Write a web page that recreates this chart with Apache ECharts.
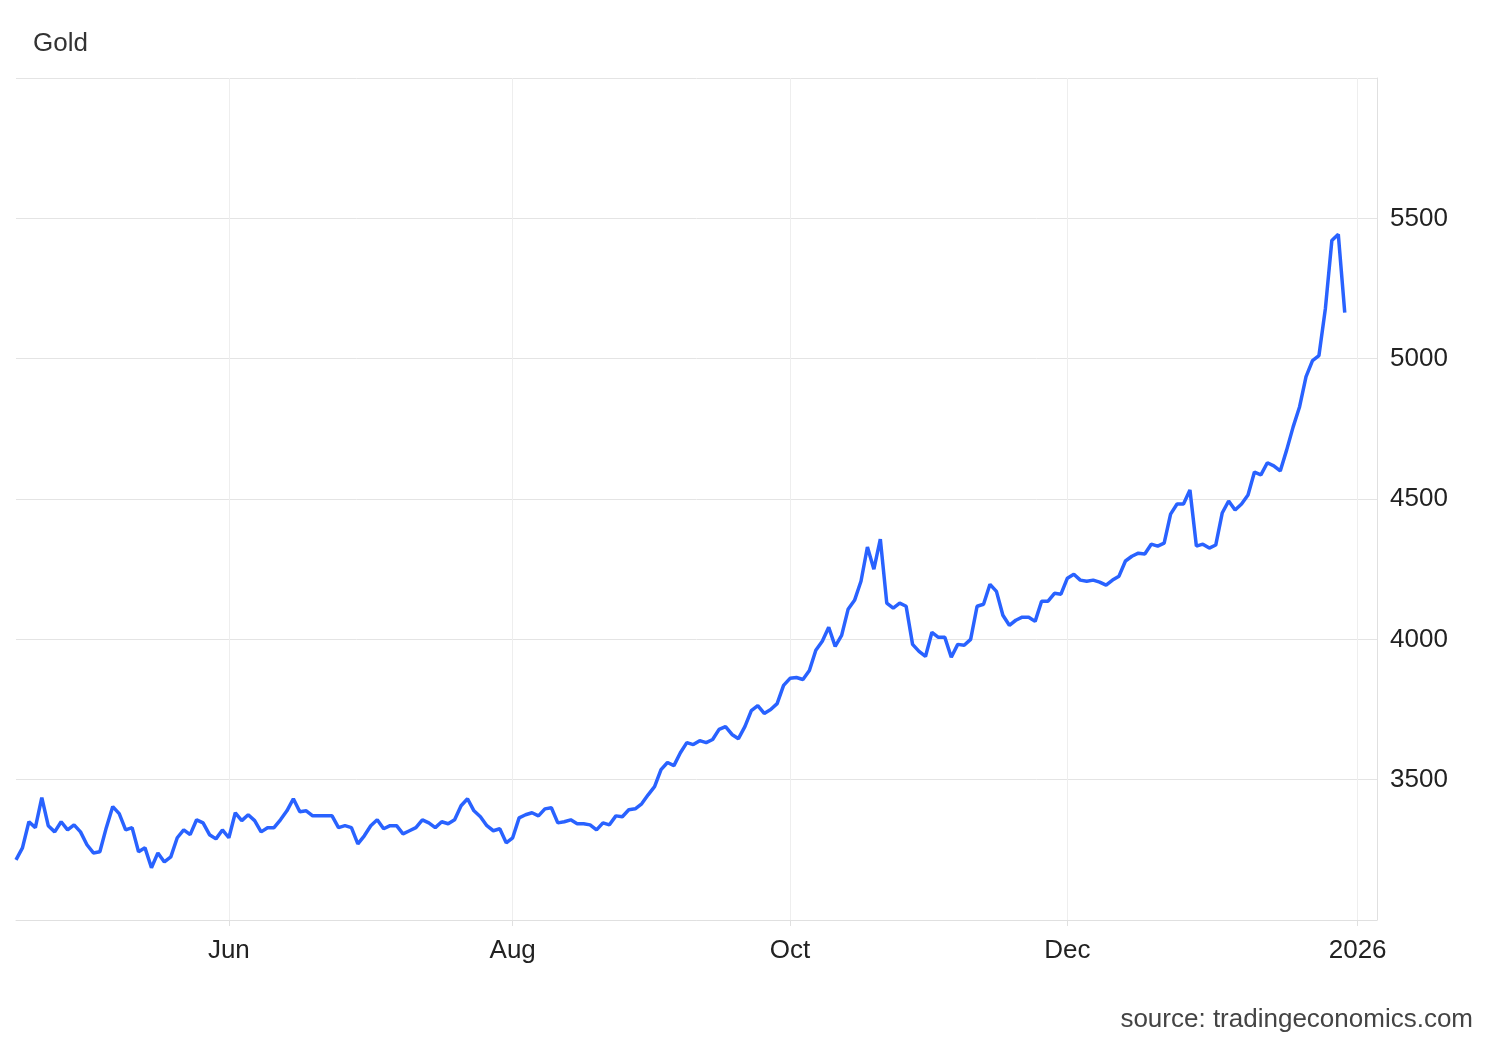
<!DOCTYPE html>
<html>
<head>
<meta charset="utf-8">
<script src="https://cdn.jsdelivr.net/npm/echarts@6/dist/echarts.min.js"></script>
<style>
  html, body { margin: 0; padding: 0; background: #fff; }
  #chart { width: 1500px; height: 1040px; }
</style>
</head>
<body>
<div id="chart"></div>
<script>
// gold price
const prices = [
  3214, 3257, 3350, 3329, 3436, 3336, 3314, 3350, 3321, 3339, 3314, 3268, 3239, 3243, 3329, 3404, 3379, 3321, 3329, 3243,
  3257, 3186, 3239, 3207, 3225, 3293, 3321, 3304, 3357, 3346, 3304, 3289, 3321, 3293, 3382, 3354, 3375, 3354, 3314, 3329,
  3329, 3357, 3389, 3432, 3386, 3389, 3371, 3371, 3371, 3371, 3329, 3336, 3329, 3271, 3300, 3336, 3357, 3325, 3336, 3336,
  3307, 3318, 3329, 3357, 3346, 3329, 3350, 3343, 3357, 3407, 3432, 3389, 3368, 3336, 3318, 3325, 3275, 3293, 3364, 3375,
  3382, 3371, 3396, 3400, 3346, 3350, 3357, 3343, 3343, 3339, 3321, 3346, 3339, 3371, 3368, 3393, 3396, 3414, 3446, 3475,
  3536, 3561, 3550, 3596, 3632, 3625, 3639, 3632, 3643, 3679, 3689, 3661, 3646, 3689, 3746, 3764, 3736, 3750, 3771, 3836,
  3861, 3864, 3857, 3889, 3961, 3993, 4043, 3975, 4014, 4107, 4139, 4207, 4329, 4250, 4357, 4129, 4111, 4129, 4118, 3982,
  3957, 3939, 4025, 4007, 4007, 3936, 3982, 3979, 4000, 4118, 4125, 4196, 4171, 4086, 4050, 4068, 4079, 4079, 4064, 4136,
  4136, 4164, 4161, 4218, 4232, 4211, 4207, 4211, 4204, 4193, 4211, 4225, 4279, 4296, 4307, 4304, 4339, 4332, 4343, 4446,
  4482, 4482, 4532, 4332, 4339, 4325, 4336, 4450, 4493, 4461, 4482, 4514, 4596, 4586, 4629, 4618, 4600, 4675, 4757, 4829,
  4936, 4993, 5011, 5179, 5421, 5443, 5164
];

// tick labels and where they sit along the series (fraction of its span)
const tickLabels = ['Jun', 'Aug', 'Oct', 'Dec', '2026'];
const tickFrac = [0.1615, 0.3756, 0.5845, 0.7934, 1.0075];
const axisEndFrac = 1.0264;

const span = prices.length - 1;
const total = Math.round(span * axisEndFrac) + 1;
const cats = new Array(total).fill('');
tickFrac.forEach((f, i) => { cats[Math.round(f * span)] = tickLabels[i]; });
const isTick = (idx) => cats[idx] !== '';
const font = 'Arial, "Liberation Sans", sans-serif';

const chart = echarts.init(document.getElementById('chart'));
chart.setOption({
  animation: false,
  title: [
    { text: 'Gold', left: 28, top: 26, textStyle: { fontFamily: font, fontSize: 26, fontWeight: 'normal', color: '#333' } },
    { text: 'source: tradingeconomics.com', right: 22, top: 1002, textStyle: { fontFamily: font, fontSize: 26, fontWeight: 'normal', color: '#444' } }
  ],
  grid: { left: 16, right: 123, top: 78, bottom: 120 },
  xAxis: {
    type: 'category',
    data: cats,
    boundaryGap: false,
    axisLine: { lineStyle: { color: '#e0e0e0' } },
    axisTick: { show: true, interval: isTick, length: 6, lineStyle: { color: '#e0e0e0' } },
    axisLabel: { interval: isTick, color: '#222', fontFamily: font, fontSize: 26, margin: 18 },
    splitLine: { show: true, interval: isTick, lineStyle: { color: '#eeeeee', width: 1 } }
  },
  yAxis: {
    type: 'value',
    position: 'right',
    min: 3000,
    max: 6000,
    interval: 500,
    axisLine: { show: true, lineStyle: { color: '#e0e0e0' } },
    axisTick: { show: false },
    axisLabel: {
      color: '#222', fontFamily: font, fontSize: 26, margin: 13,
      formatter: (v) => (v === 3000 || v === 6000) ? '' : String(v)
    },
    splitLine: { lineStyle: { color: '#e4e4e4', width: 1 } }
  },
  series: [{
    type: 'line',
    data: prices,
    showSymbol: false,
    lineStyle: { color: '#2962ff', width: 3.5 },
    itemStyle: { color: '#2962ff' }
  }]
});
</script>
</body>
</html>
